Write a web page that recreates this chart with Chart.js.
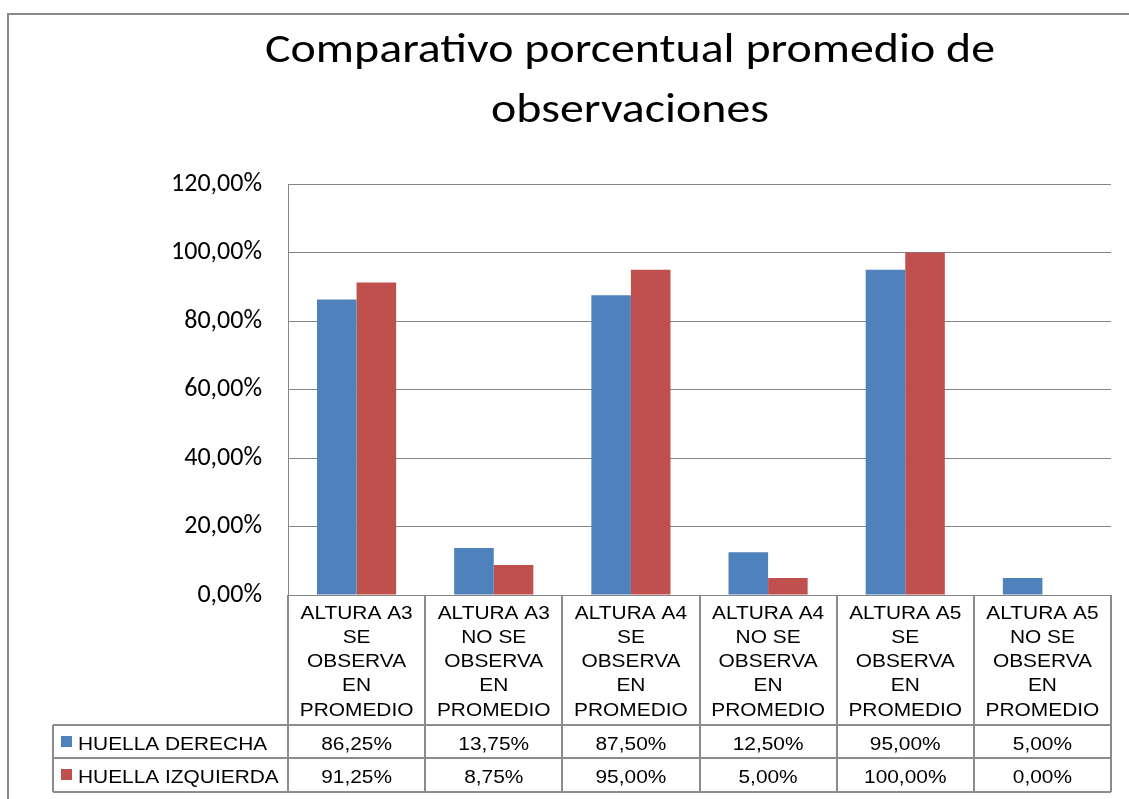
<!DOCTYPE html>
<html>
<head>
<meta charset="utf-8">
<title>Comparativo porcentual promedio de observaciones</title>
<script src="https://cdn.jsdelivr.net/npm/chart.js@4.4.1/dist/chart.umd.min.js"></script>
<style>
  html, body { margin: 0; padding: 0; background: #fff; }
  #wrap { position: relative; width: 1129px; height: 799px; }
</style>
</head>
<body>
<div id="wrap"><canvas id="chart" width="1129" height="799"></canvas></div>
<script>
// categorias (una linea por renglon de la tabla)
const categorias = [
  ['ALTURA A3', 'SE', 'OBSERVA', 'EN', 'PROMEDIO'],
  ['ALTURA A3', 'NO SE', 'OBSERVA', 'EN', 'PROMEDIO'],
  ['ALTURA A4', 'SE', 'OBSERVA', 'EN', 'PROMEDIO'],
  ['ALTURA A4', 'NO SE', 'OBSERVA', 'EN', 'PROMEDIO'],
  ['ALTURA A5', 'SE', 'OBSERVA', 'EN', 'PROMEDIO'],
  ['ALTURA A5', 'NO SE', 'OBSERVA', 'EN', 'PROMEDIO']
];
const huellaDerecha   = [0.8625, 0.1375, 0.875, 0.125, 0.95, 0.05];
const huellaIzquierda = [0.9125, 0.0875, 0.95, 0.05, 1.0, 0.0];
const tituloLineas = ['Comparativo porcentual promedio de', 'observaciones'];

const AZUL = '#4F81BD';
const ROJO = '#C0504D';
const GRIS = '#8c8c8c';
const CALIBRI = 'Carlito, Lato, "Open Sans", sans-serif';
const ARIAL = '"Liberation Sans", Arial, sans-serif';

// 0.8625 -> "86,25%"
function pct(v) {
  return (v * 100).toFixed(2).replace('.', ',') + '%';
}

// texto un poco ensanchado en horizontal
function texto(ctx, t, x, y, sx, align) {
  ctx.save();
  ctx.translate(x, y);
  ctx.scale(sx, 1);
  ctx.textAlign = align;
  ctx.fillText(t, 0, 0);
  ctx.restore();
}

// marco, titulo y tabla de datos bajo el eje x
const tablaPlugin = {
  id: 'tablaPlugin',
  beforeDraw(chart) {
    const ctx = chart.ctx;
    ctx.save();
    ctx.strokeStyle = '#8a8a8a';
    ctx.lineWidth = 2;
    ctx.beginPath();
    ctx.moveTo(8, 799);
    ctx.lineTo(8, 14);
    ctx.lineTo(1129, 14);
    ctx.stroke();
    ctx.restore();
  },
  afterDraw(chart) {
    const ctx = chart.ctx;
    const x = chart.scales.x;
    const area = chart.chartArea;
    const n = categorias.length;
    const w = (area.right - area.left) / n;
    const headBottom = 725, row1 = 758, row2 = 792, tableLeft = 53;

    ctx.save();
    // titulo
    ctx.fillStyle = '#000';
    ctx.font = '42px ' + CALIBRI;
    ctx.textBaseline = 'alphabetic';
    texto(ctx, tituloLineas[0], 630, 62, 1.14, 'center');
    texto(ctx, tituloLineas[1], 630, 122, 1.14, 'center');

    // lineas de la tabla
    ctx.strokeStyle = GRIS;
    ctx.lineWidth = 2;
    ctx.beginPath();
    for (let i = 0; i <= n; i++) {
      const px = Math.round(area.left + i * w);
      ctx.moveTo(px, area.bottom);
      ctx.lineTo(px, row2);
    }
    [headBottom, row1, row2].forEach(y => {
      ctx.moveTo(tableLeft, y);
      ctx.lineTo(area.right, y);
    });
    ctx.moveTo(tableLeft, headBottom);
    ctx.lineTo(tableLeft, row2);
    ctx.stroke();

    // encabezados
    ctx.fillStyle = '#000';
    ctx.font = '18px ' + ARIAL;
    categorias.forEach((lines, i) => {
      const cx = x.getPixelForValue(i);
      lines.forEach((t, j) => texto(ctx, t, cx, 618.5 + j * 24.3, 1.16, 'center'));
    });

    // filas de valores
    const filas = [
      { nombre: 'HUELLA DERECHA', color: AZUL, datos: huellaDerecha, y: 750 },
      { nombre: 'HUELLA IZQUIERDA', color: ROJO, datos: huellaIzquierda, y: 783 }
    ];
    filas.forEach(f => {
      ctx.fillStyle = f.color;
      ctx.fillRect(61, f.y - 14, 11, 11);
      ctx.fillStyle = '#000';
      texto(ctx, f.nombre, 78, f.y, 1.16, 'left');
      f.datos.forEach((v, i) => texto(ctx, pct(v), x.getPixelForValue(i), f.y, 1.16, 'center'));
    });
    ctx.restore();
  }
};

new Chart(document.getElementById('chart'), {
  type: 'bar',
  data: {
    labels: categorias,
    datasets: [
      { label: 'HUELLA DERECHA', data: huellaDerecha, backgroundColor: AZUL },
      { label: 'HUELLA IZQUIERDA', data: huellaIzquierda, backgroundColor: ROJO }
    ]
  },
  options: {
    responsive: false,
    animation: false,
    layout: { padding: { top: 184, right: 18, bottom: 196, left: 0 } },
    datasets: { bar: { categoryPercentage: 0.577, barPercentage: 1.0 } },
    plugins: {
      legend: { display: false },
      title: { display: false },
      tooltip: { enabled: false }
    },
    scales: {
      x: {
        ticks: { display: false },
        grid: { display: false },
        border: { display: false }
      },
      y: {
        min: 0,
        max: 1.2,
        afterFit(scale) { scale.width = 288; },
        ticks: {
          stepSize: 0.2,
          padding: 26,
          color: '#000',
          font: { family: CALIBRI, size: 26 },
          callback: v => pct(v)
        },
        grid: { color: '#868686', lineWidth: 1, drawTicks: false },
        border: { display: true, color: '#868686', width: 1 }
      }
    }
  },
  plugins: [tablaPlugin]
});
</script>
</body>
</html>
